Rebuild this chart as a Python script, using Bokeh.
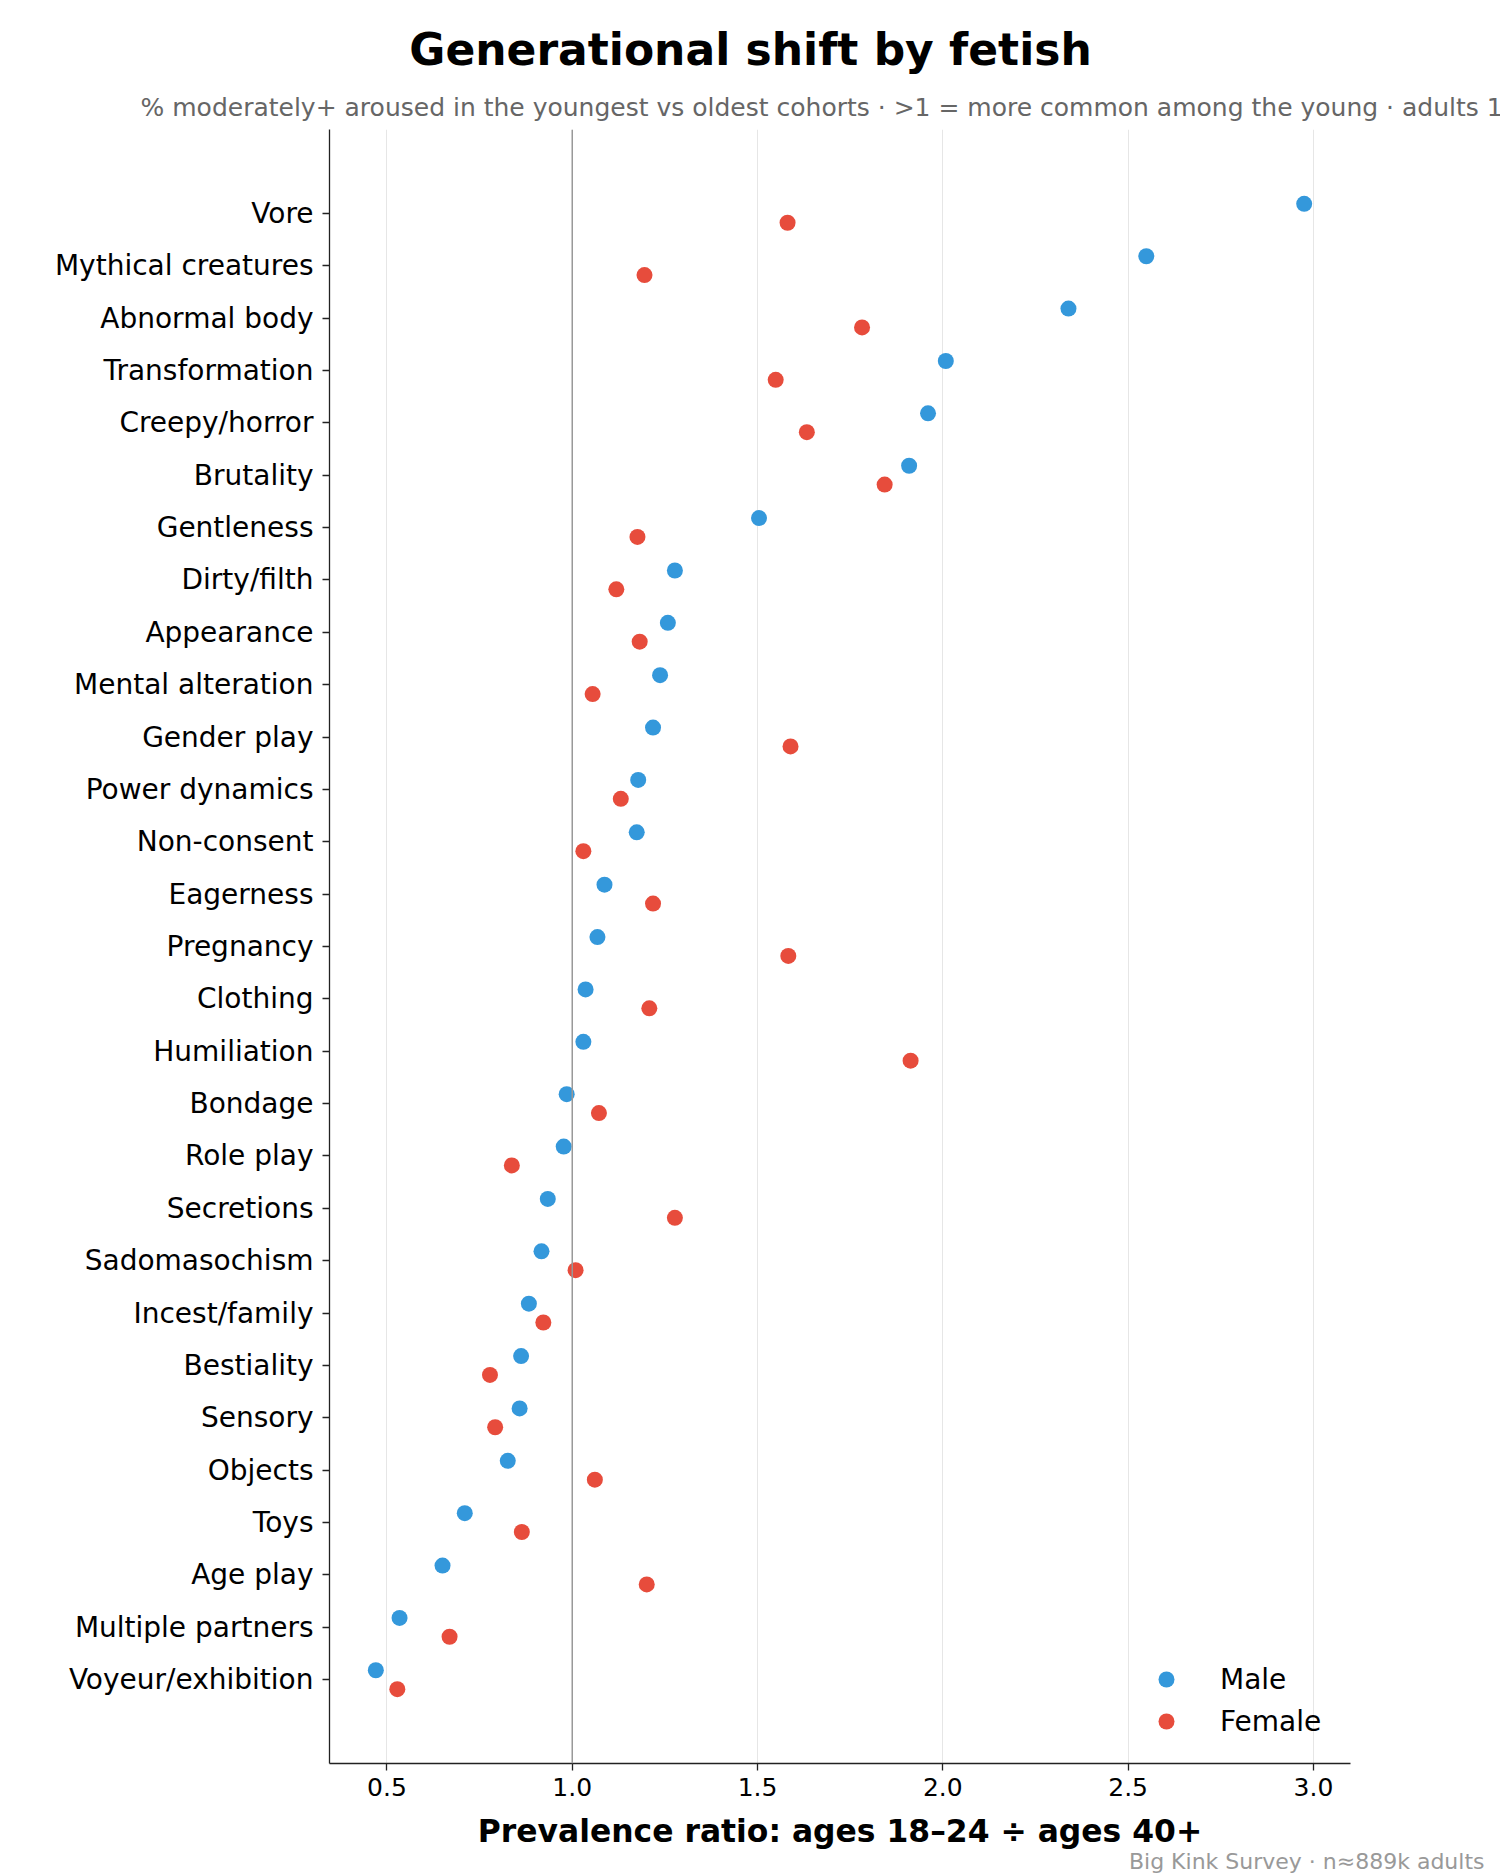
from bokeh.plotting import figure
from bokeh.models import (Range1d, FixedTicker, Label, Span, Legend, LegendItem,
                          PrintfTickFormatter)
from bokeh.embed import file_html
from bokeh.resources import INLINE

# Prevalence ratio (ages 18-24 / ages 40+) for each fetish, by sex
fetishes = [
    "Vore", "Mythical creatures", "Abnormal body", "Transformation",
    "Creepy/horror", "Brutality", "Gentleness", "Dirty/filth", "Appearance",
    "Mental alteration", "Gender play", "Power dynamics", "Non-consent",
    "Eagerness", "Pregnancy", "Clothing", "Humiliation", "Bondage",
    "Role play", "Secretions", "Sadomasochism", "Incest/family",
    "Bestiality", "Sensory", "Objects", "Toys", "Age play",
    "Multiple partners", "Voyeur/exhibition",
]
male_ratio = [
    2.975, 2.549, 2.339, 2.008, 1.960, 1.909, 1.504, 1.277, 1.258,
    1.237, 1.218, 1.178, 1.174, 1.087, 1.068, 1.036, 1.030, 0.985,
    0.977, 0.934, 0.917, 0.883, 0.862, 0.858, 0.826, 0.710, 0.650,
    0.534, 0.470,
]
female_ratio = [
    1.581, 1.195, 1.782, 1.549, 1.633, 1.843, 1.176, 1.119, 1.182,
    1.055, 1.589, 1.131, 1.030, 1.218, 1.583, 1.208, 1.913, 1.072,
    0.837, 1.277, 1.009, 0.922, 0.778, 0.792, 1.061, 0.864, 1.201,
    0.669, 0.528,
]
x_ticks = [0.5, 1.0, 1.5, 2.0, 2.5, 3.0]

MALE_COLOR = "#3498db"
FEMALE_COLOR = "#e74c3c"
FONT = "DejaVu Sans"

W, H = 1500, 1875
LEFT, RIGHT, TOP, BOTTOM = 329, 1350, 129, 1763

n = len(fetishes)
X0, X1 = 0.345, 3.10
Y_TOP, Y_BOTTOM = -1.6, n - 1 + 1.6
OFFSET = 0.18


def x_at(px):
    """Canvas pixel column -> data x."""
    return X0 + (px - LEFT) / (RIGHT - LEFT) * (X1 - X0)


def y_at(py):
    """Canvas pixel row -> data y."""
    return Y_TOP + (py - TOP) / (BOTTOM - TOP) * (Y_BOTTOM - Y_TOP)


p = figure(
    width=W, height=H, output_backend="svg", toolbar_location=None,
    x_range=Range1d(X0, X1), y_range=Range1d(Y_BOTTOM, Y_TOP),
    min_border_left=LEFT, min_border_right=W - RIGHT,
    min_border_top=TOP, min_border_bottom=H - BOTTOM,
)
p.outline_line_color = None
p.background_fill_color = "white"
p.border_fill_color = "white"

# grid: vertical lines only
p.ygrid.visible = False
p.xgrid.ticker = FixedTicker(ticks=x_ticks)
p.xgrid.grid_line_color = "#e6e6e6"
p.xgrid.grid_line_width = 1

# parity reference line
p.add_layout(Span(location=1.0, dimension="height", line_color="#999999",
                  line_width=1.5))

rows = list(range(n))
male_r = p.scatter(x=male_ratio, y=[r - OFFSET for r in rows], size=16,
                   fill_color=MALE_COLOR, line_color=None)
female_r = p.scatter(x=female_ratio, y=[r + OFFSET for r in rows], size=16,
                     fill_color=FEMALE_COLOR, line_color=None)

# axes
for ax in (p.xaxis, p.yaxis):
    ax.axis_line_color = "#222222"
    ax.axis_line_width = 1.3
    ax.major_tick_line_color = "#222222"
    ax.major_tick_line_width = 1.3
    ax.major_tick_out = 7
    ax.major_tick_in = 0
    ax.minor_tick_line_color = None
    ax.major_label_text_font = FONT
    ax.major_label_text_color = "black"

p.xaxis.ticker = FixedTicker(ticks=x_ticks)
p.xaxis.formatter = PrintfTickFormatter(format="%.1f")
p.xaxis.major_label_text_font_size = "25px"
p.xaxis.major_label_standoff = 7
p.xaxis.axis_label = "Prevalence ratio: ages 18\u201324 \u00f7 ages 40+"
p.xaxis.axis_label_text_font = FONT
p.xaxis.axis_label_text_font_style = "bold"
p.xaxis.axis_label_text_font_size = "31.4px"
p.xaxis.axis_label_text_color = "black"
p.xaxis.axis_label_standoff = 14

p.yaxis.ticker = FixedTicker(ticks=rows)
p.yaxis.major_label_overrides = {i: name for i, name in enumerate(fetishes)}
p.yaxis.major_label_text_font_size = "28px"
p.yaxis.major_label_standoff = 9

# titles and source note live in the top border panel so they are not
# clipped to the plotting area
p.add_layout(Label(
    x=x_at(W / 2), y=y_at(48.5), text="Generational shift by fetish",
    text_font=FONT, text_font_style="bold", text_font_size="44px",
    text_color="black", text_align="center", text_baseline="alphabetic"),
    "above")
p.add_layout(Label(
    x=(X0 + X1) / 2, y=y_at(107),
    text="% moderately+ aroused in the youngest vs oldest cohorts \u00b7 "
         ">1 = more common among the young \u00b7 adults 18+",
    text_font=FONT, text_font_size="25px", text_color="#666666",
    text_align="center", text_baseline="alphabetic"),
    "above")
p.add_layout(Label(
    x=x_at(1484), y=y_at(1861), text="Big Kink Survey \u00b7 n\u2248889k adults",
    text_font=FONT, text_font_size="22px", text_color="#999999",
    text_align="right", text_baseline="alphabetic"),
    "above")

legend = Legend(
    items=[LegendItem(label="Male", renderers=[male_r]),
           LegendItem(label="Female", renderers=[female_r])],
    location=(817, 22), orientation="vertical",
    glyph_width=40, glyph_height=40, label_height=40, spacing=2,
    padding=0, margin=0, label_standoff=34,
    border_line_color=None, background_fill_alpha=0,
    label_text_font=FONT, label_text_font_size="28px",
    label_text_color="black",
)
p.add_layout(legend)

open("out.html", "w").write(file_html(p, INLINE))
